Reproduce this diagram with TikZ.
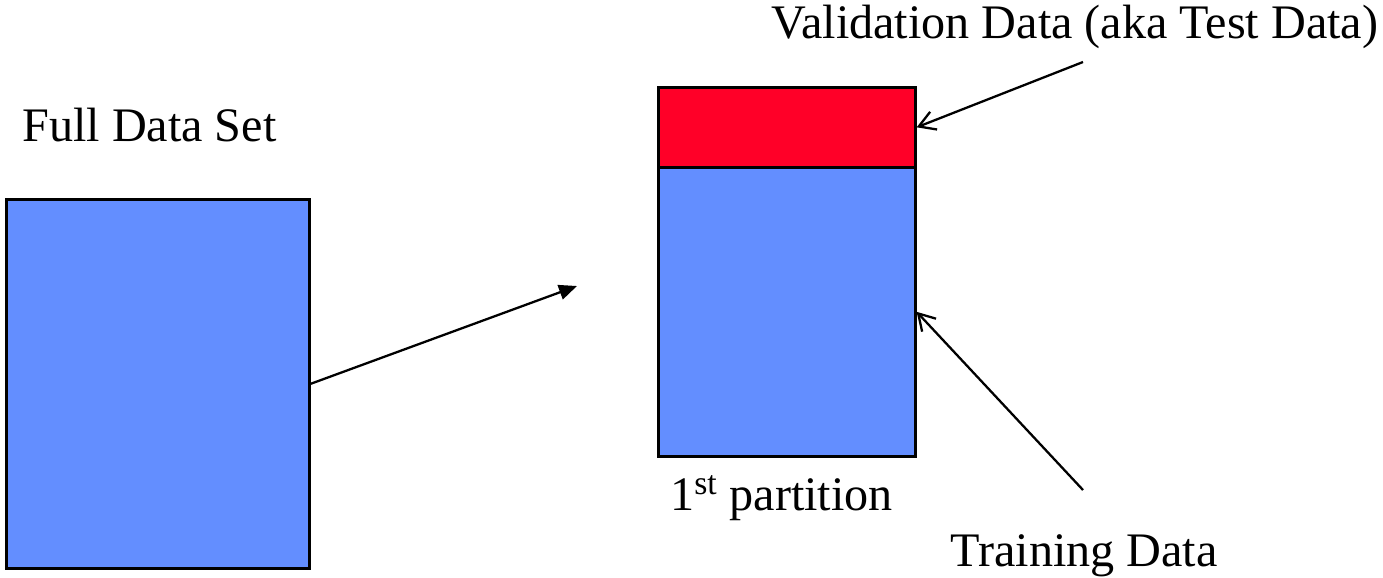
\documentclass[tikz,border=0pt]{standalone}
\usepackage{fontspec}
\setmainfont{Liberation Serif}
\usepackage{xcolor}
\definecolor{setblue}{RGB}{99,142,255}
\definecolor{valred}{RGB}{255,0,40}
\usepackage{tikz}
\usetikzlibrary{arrows.meta, positioning}

\begin{document}
\begin{tikzpicture}[
  datablock/.style={draw=black, fill=#1, line width=1.5pt, inner sep=0pt, anchor=north west},
  caption/.style={font=\fontsize{27.4}{32}\selectfont, inner sep=0pt},
  bigarr/.style={-{Triangle[length=0.36cm, width=0.3cm]}, line width=1.3pt},
  pointer/.style={-{Straight Barb[length=0.32cm, width=0.38cm]}, line width=1.3pt},
]
  \useasboundingbox (0,0) rectangle (27.66,-11.54);

  % Full data set
  \node[caption, anchor=base west] (fulltxt) at (0.44,-2.82) {Full Data Set};
  \node[datablock=setblue, minimum width=6.06cm, minimum height=7.38cm] (full) at (0.1,-3.96) {};

  % 1st partition
  \node[datablock=valred, minimum width=5.14cm, minimum height=1.6cm] (valid) at (13.14,-1.72) {};
  \node[datablock=setblue, minimum width=5.14cm, minimum height=5.78cm] (train) at (13.14,-3.32) {};
  \node[caption, anchor=base] (parttxt) at (15.63,-10.2) {1\textsuperscript{st} partition};

  % labels
  \node[caption, anchor=base] (validtxt) at (21.5,-0.76) {Validation Data (aka Test Data)};
  \node[caption, anchor=base] (traintxt) at (21.68,-11.32) {Training Data};

  % arrows
  \coordinate (split) at (11.54,-5.72);
  \coordinate (validfrom) at (21.66,-1.24);
  \coordinate (trainfrom) at (21.66,-9.8);
  \draw[bigarr] (full.east) -- (split);
  \draw[pointer] (validfrom) -- (valid.east);
  \draw[pointer] (trainfrom) -- (train.east);
\end{tikzpicture}
\end{document}
